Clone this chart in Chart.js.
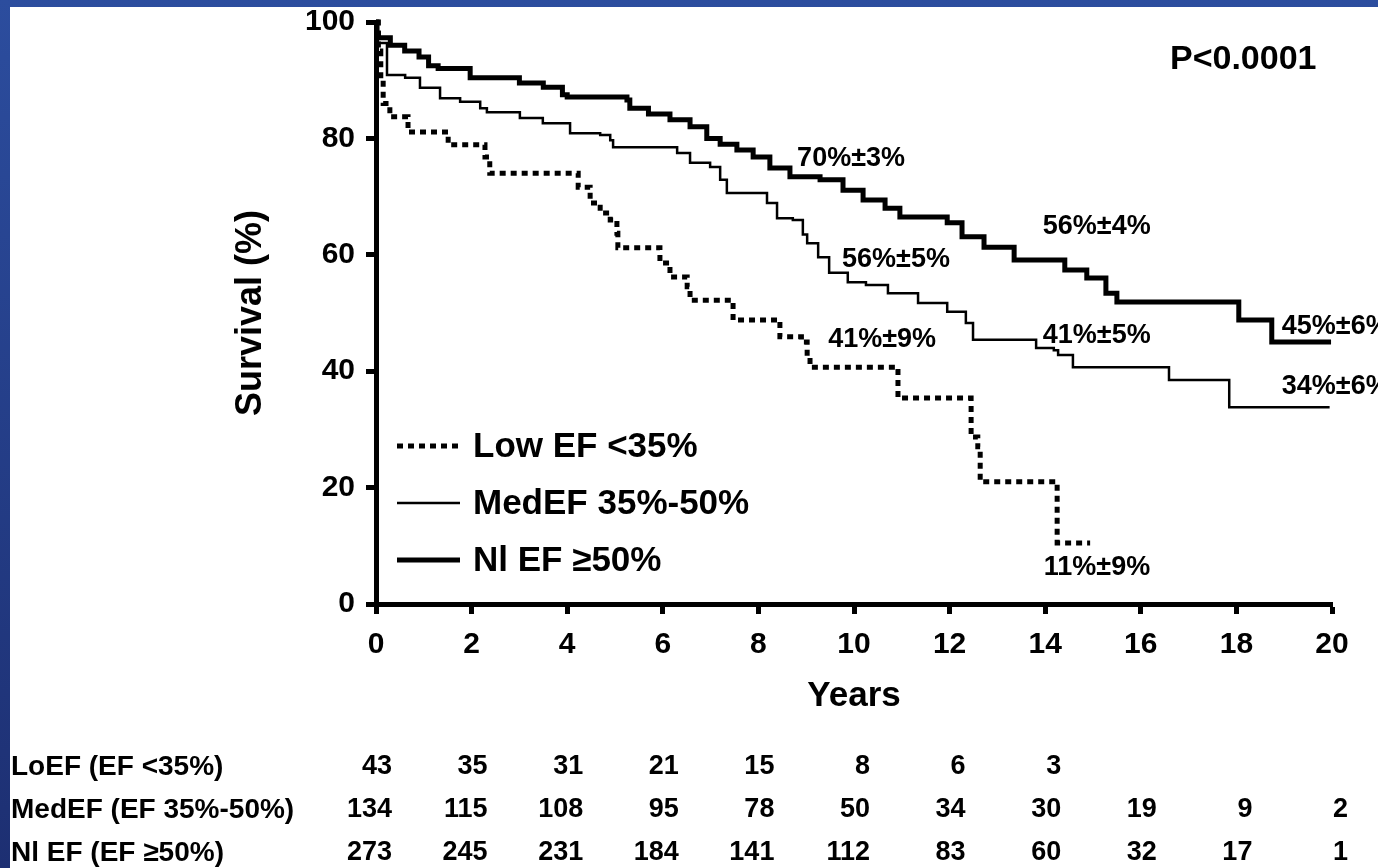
<!DOCTYPE html>
<html>
<head>
<meta charset="utf-8">
<script src="https://cdn.jsdelivr.net/npm/chart.js@4.4.1/dist/chart.umd.min.js"></script>
<style>
  html, body { margin: 0; padding: 0; }
  body {
    width: 1378px; height: 868px; overflow: hidden;
    background: linear-gradient(to bottom, #2c4d9e, #1d2f72);
  }
  #wrap {
    position: absolute; left: 10px; top: 7px;
    width: 1368px; height: 861px; background: #fff;
  }
</style>
</head>
<body>
<div id="wrap"><canvas id="km" width="1368" height="861"></canvas></div>
<script>
// Kaplan-Meier steps (years, survival %)
const loYears = [0, 0.05, 0.1, 0.15, 0.29, 0.67, 1.51, 2.28, 2.38, 4.23, 4.48, 4.69, 4.9, 5.04, 5.06, 5.94, 6.15, 6.51, 6.57, 7.47, 8.45, 8.9, 9.02, 9.08, 10.92, 12.45, 12.59, 12.64, 14.25, 14.94];
const loSurv  = [100, 95, 90, 86, 83.7, 81.1, 78.9, 76.8, 74, 71.6, 68.9, 67.2, 66, 63.7, 61.2, 58.6, 56.2, 54.5, 52.2, 48.8, 45.9, 45, 42.4, 40.7, 35.4, 28.7, 27, 21, 10.5, 10.5];

const medYears = [0, 0.04, 0.23, 0.61, 0.92, 1.34, 1.76, 2.18, 2.32, 3.01, 3.49, 4.06, 4.69, 4.9, 4.96, 6.3, 6.57, 6.99, 7.2, 7.34, 8.18, 8.39, 8.72, 8.93, 9.02, 9.25, 9.48, 9.87, 10.25, 10.71, 11.34, 11.95, 12.34, 12.49, 13.81, 14.18, 14.27, 14.58, 16.59, 17.85, 19.95];
const medSurv  = [100, 96.4, 90.9, 90.4, 88.7, 86.9, 86.3, 85.2, 84.5, 83.5, 82.6, 80.9, 80.6, 79.7, 78.5, 77.5, 75.8, 75.1, 72.9, 70.6, 68.9, 66.3, 66, 63.5, 62, 59.6, 56.9, 55.3, 54.8, 53.4, 51.7, 50.2, 48.3, 45.4, 44, 43.6, 42.8, 40.7, 38.5, 33.8, 33.8];

const niYears = [0, 0.02, 0.05, 0.3, 0.6, 0.9, 1.1, 1.3, 1.97, 3.0, 3.5, 3.9, 4.0, 5.25, 5.31, 5.7, 6.15, 6.57, 6.92, 7.2, 7.55, 7.89, 8.24, 8.66, 9.29, 9.77, 10.19, 10.65, 10.96, 11.95, 12.26, 12.72, 13.35, 14.41, 14.87, 15.27, 15.5, 18.05, 18.74, 19.98];
const niSurv  = [100, 98, 97.3, 96, 95, 94, 92.5, 92, 90.4, 89.5, 88.8, 87.5, 87.1, 86.6, 85.2, 84.2, 83.2, 82, 80, 79, 78, 76.8, 74.9, 73.4, 72.9, 71.1, 69.4, 68, 66.5, 65.5, 63.1, 61.3, 59.1, 57.4, 56, 53.4, 51.9, 48.8, 45, 45];

const seriesNames = ["Low EF <35%", "MedEF 35%-50%", "Nl EF \u226550%"];

// numbers at risk
const riskYears = [0, 2, 4, 6, 8, 10, 12, 14, 16, 18, 20];
const riskLabels = ["LoEF (EF <35%)", "MedEF (EF 35%-50%)", "Nl EF (EF \u226550%)"];
const loRisk  = [43, 35, 31, 21, 15, 8, 6, 3];
const medRisk = [134, 115, 108, 95, 78, 50, 34, 30, 19, 9, 2];
const niRisk  = [273, 245, 231, 184, 141, 112, 83, 60, 32, 17, 1];

// survival estimates written on the plot
const noteText = ["70%\u00b13%", "56%\u00b14%", "56%\u00b15%", "41%\u00b19%", "41%\u00b15%", "45%\u00b16%", "34%\u00b16%", "11%\u00b19%"];
const noteYear = [8.81, 13.95, 9.75, 9.46, 13.95, 18.95, 18.95, 13.97];
const noteSurv = [76.6, 64.9, 59.1, 45.4, 46.2, 47.6, 37.3, 6.3];
const pValue = "P<0.0001";

const FONT = "'Liberation Sans', Arial, Helvetica, sans-serif";

function toPoints(xs, ys) {
    return xs.map((x, i) => ({ x: x, y: ys[i] }));
}

const notesPlugin = {
    id: 'notes',
    afterDatasetsDraw(chart) {
        const ctx = chart.ctx;
        const xs = chart.scales.x, ys = chart.scales.y;
        ctx.save();
        ctx.fillStyle = '#000';
        ctx.textBaseline = 'middle';
        ctx.textAlign = 'left';
        ctx.font = "bold 27px " + FONT;
        noteText.forEach((t, i) => {
            ctx.fillText(t, xs.getPixelForValue(noteYear[i]), ys.getPixelForValue(noteSurv[i]));
        });
        ctx.font = "bold 34px " + FONT;
        ctx.fillText(pValue, xs.getPixelForValue(16.61), ys.getPixelForValue(93.6));

        // legend inside the plot
        const area = chart.chartArea;
        chart.data.datasets.forEach((ds, i) => {
            const y = area.top + 424 + i * 57;
            ctx.beginPath();
            ctx.lineWidth = ds.borderWidth;
            ctx.setLineDash(ds.borderDash || []);
            ctx.moveTo(area.left + 21, y);
            ctx.lineTo(area.left + 84, y);
            ctx.stroke();
            ctx.setLineDash([]);
            ctx.font = "bold 35px " + FONT;
            ctx.fillText(ds.label, area.left + 97, y + 1);
        });

        // numbers at risk table
        const rows = [loRisk, medRisk, niRisk];
        const rowY = [760, 803, 846];
        rows.forEach((r, i) => {
            ctx.textAlign = 'left';
            ctx.font = "bold 28px " + FONT;
            ctx.fillText(riskLabels[i], 1, rowY[i]);
            ctx.textAlign = 'right';
            ctx.font = "bold 27px " + FONT;
            r.forEach((n, j) => {
                ctx.fillText(String(n), xs.getPixelForValue(riskYears[j]) + 16, rowY[i]);
            });
        });
        ctx.restore();
    }
};

const axisStyle = {
    border: { display: true, color: '#000', width: 5 },
    grid: { display: true, drawOnChartArea: false, drawTicks: true, tickLength: 10, tickWidth: 5, tickColor: '#000' }
};

new Chart(document.getElementById('km'), {
    type: 'line',
    data: {
        datasets: [
            { label: seriesNames[0], data: toPoints(loYears, loSurv), borderColor: '#000', borderWidth: 5, borderDash: [6, 5], stepped: 'before', pointRadius: 0, fill: false, clip: false },
            { label: seriesNames[1], data: toPoints(medYears, medSurv), borderColor: '#000', borderWidth: 2.5, stepped: 'before', pointRadius: 0, fill: false, clip: false },
            { label: seriesNames[2], data: toPoints(niYears, niSurv), borderColor: '#000', borderWidth: 5, stepped: 'before', pointRadius: 0, fill: false, clip: false }
        ]
    },
    options: {
        responsive: false,
        animation: false,
        layout: { padding: { left: 223, right: 46, top: 15, bottom: 154 } },
        plugins: { legend: { display: false }, tooltip: { enabled: false } },
        scales: {
            x: {
                type: 'linear', min: 0, max: 20,
                ...axisStyle,
                ticks: { stepSize: 2, color: '#000', padding: 16, maxRotation: 0, autoSkip: false,
                         font: { family: FONT, size: 30, weight: 'bold', lineHeight: 1 } },
                title: { display: true, text: 'Years', color: '#000', padding: 0,
                         font: { family: FONT, size: 35, weight: 'bold', lineHeight: 1 } },
                afterFit(scale) { scale.height = 110; }
            },
            y: {
                min: 0, max: 100,
                ...axisStyle,
                ticks: { stepSize: 20, color: '#000', padding: 11,
                         font: { family: FONT, size: 30, weight: 'bold', lineHeight: 1 } },
                title: { display: true, text: 'Survival (%)', color: '#000', padding: 0,
                         font: { family: FONT, size: 36, weight: 'bold', lineHeight: 1 } },
                afterFit(scale) {
                    scale.width = 143;
                    scale.paddingTop = 15;
                    scale.paddingBottom = 15;
                }
            }
        }
    },
    plugins: [notesPlugin]
});
</script>
</body>
</html>
